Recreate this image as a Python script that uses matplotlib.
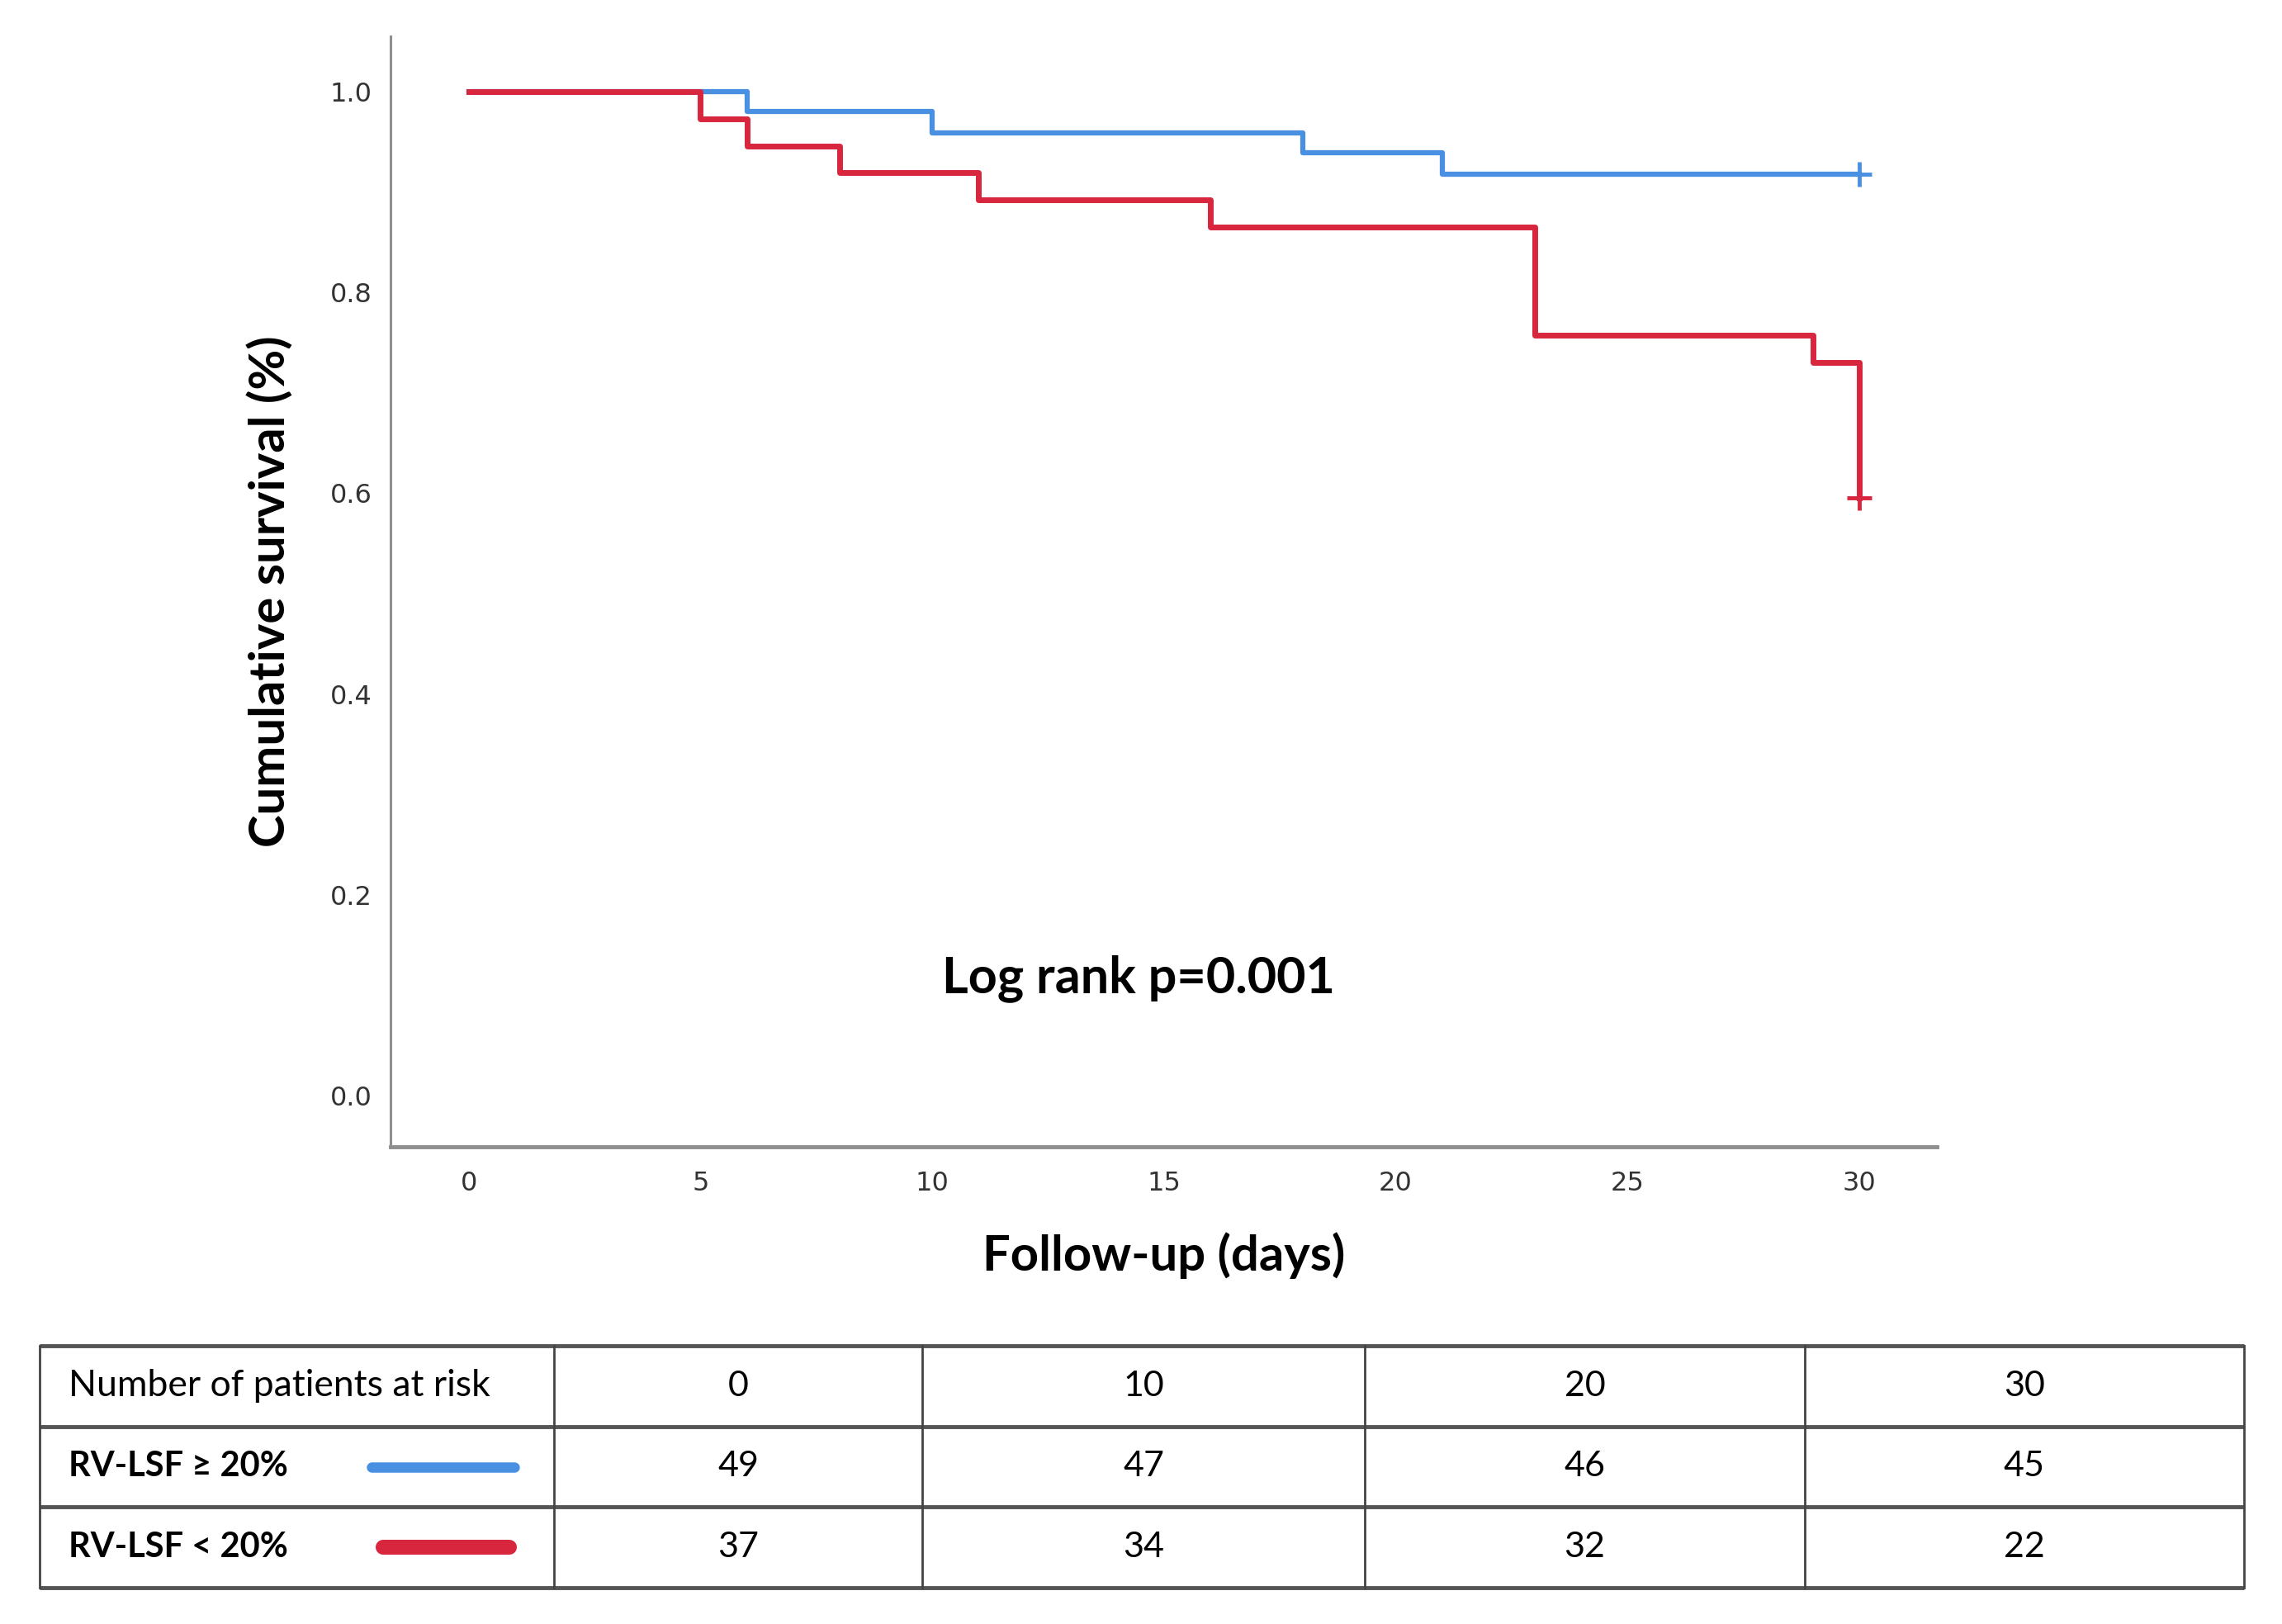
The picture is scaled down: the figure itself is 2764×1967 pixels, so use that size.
import matplotlib
matplotlib.use("Agg")
import matplotlib.pyplot as plt

# Kaplan-Meier steps
blue_days = [0, 6, 10, 18, 21, 30]
blue_surv = [1.0, 0.980, 0.959, 0.939, 0.918, 0.918]
red_days = [0, 5, 6, 8, 11, 16, 23, 29, 30]
red_surv = [1.0, 0.973, 0.946, 0.919, 0.892, 0.865, 0.757, 0.730, 0.595]

x_ticks = [0, 5, 10, 15, 20, 25, 30]
y_ticks = [0.0, 0.2, 0.4, 0.6, 0.8, 1.0]

# number at risk table
risk_header = ["Number of patients at risk", "0", "10", "20", "30"]
risk_labels = ["RV-LSF \u2265 20%", "RV-LSF < 20%"]
risk_blue = [49, 47, 46, 45]
risk_red = [37, 34, 32, 22]

BLUE = "#4a90e2"
RED = "#d7263d"
W, H = 2764, 1967

fig = plt.figure(figsize=(W / 100, H / 100), dpi=100)
ax = fig.add_axes([473 / W, 1 - 1389 / H, (2346 - 473) / W, (1389 - 44) / H])

ax.step(blue_days, blue_surv, where="post", color=BLUE, lw=4.5, zorder=2)
ax.step(red_days, red_surv, where="post", color=RED, lw=5, zorder=3)
ax.plot(blue_days[-1], blue_surv[-1], marker="+", ms=22, mew=3.5, color=BLUE, zorder=4)
ax.plot(red_days[-1], red_surv[-1], marker="+", ms=22, mew=3.5, color=RED, zorder=4)

ax.set_xlim(-1.69, 31.68)
ax.set_ylim(-0.051, 1.055)
ax.set_xticks(x_ticks)
ax.set_yticks(y_ticks)
ax.set_yticklabels(["%.1f" % v for v in y_ticks])
ax.tick_params(length=0, labelsize=23, labelcolor="#333333")
ax.tick_params(axis="y", pad=16)
ax.tick_params(axis="x", pad=21)

for s in ["top", "right"]:
    ax.spines[s].set_visible(False)
ax.spines["left"].set_color("#8f8f8f")
ax.spines["left"].set_linewidth(2.2)
ax.spines["bottom"].set_color("#8f8f8f")
ax.spines["bottom"].set_linewidth(3.5)

ax.set_ylabel("Cumulative survival (%)", fontsize=43, fontweight="bold", family="Lato")
ax.yaxis.set_label_coords((328 - 473) / (2346 - 473), 0.5)
ax.set_xlabel("Follow-up (days)", fontsize=43, fontweight="bold", family="Lato")
ax.xaxis.set_label_coords(0.5, -(1521 - 1389) / (1389 - 44))
ax.xaxis.label.set_va("center")
ax.yaxis.label.set_va("center")

ax.text(14.45, 0.117, "Log rank p=0.001", fontsize=44, fontweight="bold",
        family="Lato", ha="center", va="center")

# risk table
tax = fig.add_axes([48 / W, 1 - 1923 / H, (2718 - 48) / W, (1923 - 1630) / H])
tax.set_xlim(0, 1)
tax.set_ylim(0, 3)
tax.axis("off")
col_edges = [0, 0.2335, 0.4004, 0.6011, 0.8007, 1.0]
for y in [0, 1, 2, 3]:
    tax.plot([0, 1], [y, y], color="#555555", lw=3.5, solid_capstyle="butt", clip_on=False)
for x in col_edges:
    tax.plot([x, x], [0, 3], color="#444444", lw=2, clip_on=False)

centers = [(col_edges[i] + col_edges[i + 1]) / 2 for i in range(1, 5)]
tax.text(0.013, 2.5, risk_header[0], fontsize=32, family="Lato", va="center", ha="left")
for c, t in zip(centers, risk_header[1:]):
    tax.text(c, 2.5, t, fontsize=31, family="Lato", va="center", ha="center")
rows = [(risk_labels[0], risk_blue, BLUE, 9, 1.5, 0.1506, 0.2154),
        (risk_labels[1], risk_red, RED, 13, 0.5, 0.1558, 0.2131)]
for label, vals, col, lw, y, x0, x1 in rows:
    tax.text(0.013, y, label, fontsize=30, family="Lato", fontweight="bold",
             va="center", ha="left")
    tax.plot([x0, x1], [y, y], color=col, lw=lw, solid_capstyle="round")
    for c, v in zip(centers, vals):
        tax.text(c, y, str(v), fontsize=31, family="Lato", va="center", ha="center")

fig.savefig("out.png", dpi=100, facecolor="white")
